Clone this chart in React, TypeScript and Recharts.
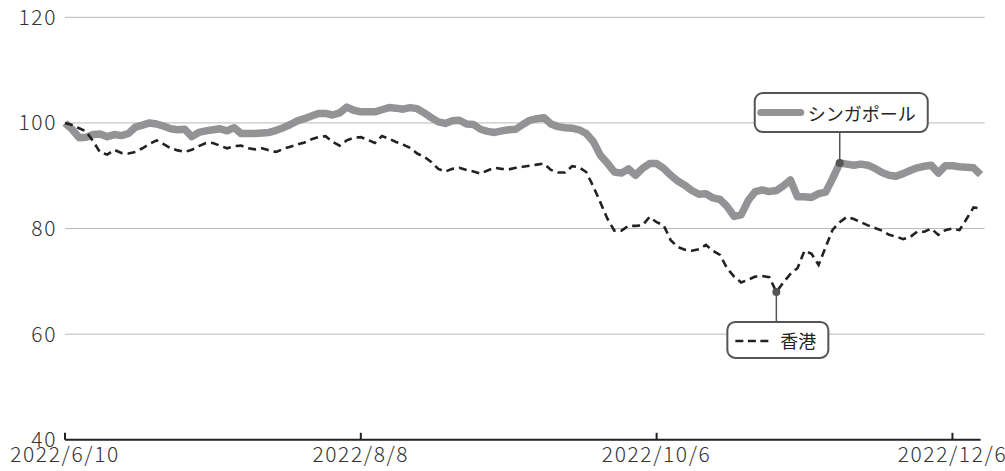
import { CartesianGrid, Line, LineChart, XAxis, YAxis } from "recharts";

const FONT = '"Noto Sans CJK JP", "Noto Sans", sans-serif';
const SG_COLOR = "#939395";
const HK_COLOR = "#222222";
const INK = "#555555";

// trading-day index -> tick label
const tickIndex = [0, 42, 84, 126];
const tickLabels = ["2022/6/10", "2022/8/8", "2022/10/6", "2022/12/6"];
const yTicks = [40, 60, 80, 100, 120];

// indexed to 100 on 2022/6/10
const sg = [
  100, 98.8, 97.2, 97.3, 97.8, 97.9, 97.4, 97.8, 97.6, 98.0,
  99.2, 99.6, 100.0, 99.8, 99.4, 98.9, 98.7, 98.8, 97.4, 98.2,
  98.5, 98.7, 98.9, 98.5, 99.1, 98.0, 98.0, 98.0, 98.1, 98.2,
  98.6, 99.1, 99.7, 100.4, 100.8, 101.3, 101.8, 101.8, 101.5, 101.9,
  103.0, 102.4, 102.1, 102.1, 102.1, 102.5, 102.9, 102.8, 102.6, 102.9,
  102.7, 101.9, 101.0, 100.2, 99.9, 100.4, 100.5, 99.8, 99.7, 98.8,
  98.4, 98.2, 98.5, 98.7, 98.8, 99.7, 100.5, 100.8, 101.0, 99.8,
  99.3, 99.1, 99.0, 98.7, 98.0, 96.5, 93.9, 92.4, 90.7, 90.5,
  91.3, 90.1, 91.4, 92.3, 92.3, 91.4, 90.1, 89.0, 88.2, 87.2,
  86.5, 86.6, 85.8, 85.5, 84.2, 82.3, 82.6, 85.3, 87.0, 87.3,
  87.0, 87.2, 88.1, 89.2, 86.0, 86.0, 85.9, 86.6, 86.9, 89.5,
  92.4, 92.2, 92.0, 92.2, 92.0, 91.4, 90.6, 90.1, 89.9, 90.4,
  91.0, 91.5, 91.8, 92.0, 90.5, 91.9, 91.9, 91.7, 91.6, 91.5,
  90.2,
];

const hk = [
  100, 99.6, 99.0, 98.4, 96.5, 94.4, 94.0, 94.9, 94.3, 94.2,
  94.5, 95.2, 96.0, 96.7, 96.0, 95.2, 94.8, 94.5, 94.9, 95.6,
  96.2, 96.2, 95.7, 95.2, 95.6, 95.7, 95.2, 95.0, 95.2, 94.8,
  94.5, 95.1, 95.5, 95.9, 96.3, 96.9, 97.3, 97.5, 96.4, 95.7,
  96.7, 97.2, 97.3, 96.8, 96.2, 97.5, 97.0, 96.4, 95.9, 95.3,
  94.2, 93.6, 92.6, 91.3, 90.8, 91.3, 91.5, 91.1, 90.8, 90.4,
  91.0, 91.5, 91.3, 91.2, 91.5, 91.7, 91.9, 92.1, 92.3, 91.1,
  90.6, 90.6, 91.8, 91.6, 90.7, 88.0, 85.0, 81.9, 79.6, 79.6,
  80.5, 80.5, 80.6, 82.2, 81.2, 80.6, 77.8, 76.5, 76.0, 75.8,
  76.1, 76.9, 75.8, 75.0, 72.5, 70.9, 69.8, 70.3, 70.9, 71.0,
  70.8, 68.0, 69.8, 71.4, 72.5, 75.8, 75.2, 73.1, 76.5, 79.8,
  81.2, 82.2, 81.8, 81.2, 80.6, 80.1, 79.6, 78.8, 78.5, 78.0,
  78.4, 79.4, 79.4, 80.0, 78.8, 79.7, 80.0, 79.7, 81.8, 84.0,
  83.8,
];

// points where the labels are attached
const SG_NOTE = 110;
const HK_NOTE = 101;

const data = sg.map((v, i) => ({ i, sg: v, hk: hk[i] }));

function DateTick(props: any) {
  const { x, y, payload } = props;
  const k = tickIndex.indexOf(payload.value);
  return (
    <g>
      <line x1={x} x2={x} y1={y - 7} y2={y} stroke="#222" strokeWidth={2} />
      <text
        x={x}
        y={y + 22}
        textAnchor="middle"
        fill="#333"
        fontSize={21}
        fontWeight={300}
        letterSpacing={1.6}
        fontFamily={FONT}
      >
        {tickLabels[k]}
      </text>
    </g>
  );
}

function GridLine(props: any) {
  const { x1, x2, y1, y2 } = props;
  return <line x1={x1} x2={x2 + 4} y1={y1} y2={y2} stroke="#b8b8b8" strokeWidth={1} />;
}

function sgDot(p: any) {
  if (p.index !== SG_NOTE) return <g key={`sg-${p.index}`} />;
  const { cx, cy } = p;
  return (
    <g key="sg-note">
      <line x1={cx} x2={cx} y1={cy} y2={cy - 31} stroke={INK} strokeWidth={1.5} />
      <circle cx={cx} cy={cy} r={4} fill={INK} />
      <rect x={cx - 85} y={cy - 70} width={173} height={39} rx={8} fill="#fff" stroke={INK} strokeWidth={2} />
      <line x1={cx - 79} x2={cx - 39} y1={cy - 50.5} y2={cy - 50.5} stroke={SG_COLOR} strokeWidth={7} strokeLinecap="round" />
      <text x={cx - 32} y={cy - 50} dominantBaseline="central" fill="#222" fontSize={18} fontFamily={FONT}>
        シンガポール
      </text>
    </g>
  );
}

function hkDot(p: any) {
  if (p.index !== HK_NOTE) return <g key={`hk-${p.index}`} />;
  const { cx, cy } = p;
  return (
    <g key="hk-note">
      <line x1={cx} x2={cx} y1={cy} y2={cy + 30} stroke={INK} strokeWidth={1.5} />
      <circle cx={cx} cy={cy} r={4} fill={INK} />
      <rect x={cx - 49} y={cy + 30} width={101} height={36} rx={8} fill="#fff" stroke={INK} strokeWidth={2} />
      <line x1={cx - 41} x2={cx - 4} y1={cy + 49} y2={cy + 49} stroke={HK_COLOR} strokeWidth={2.5} strokeDasharray="8 4.5" />
      <text x={cx + 4} y={cy + 48} dominantBaseline="central" fill="#222" fontSize={18} fontFamily={FONT}>
        香港
      </text>
    </g>
  );
}

export default function App() {
  return (
    <div style={{ position: "absolute", left: 0, top: 0, background: "#fff" }}>
      <LineChart
        width={1005}
        height={471}
        data={data}
        margin={{ top: 17.3, right: 24.4, bottom: 0, left: 0 }}
      >
        <CartesianGrid
          vertical={false}
          horizontal={GridLine}
          horizontalValues={[60, 80, 100, 120]}
        />
        <XAxis
          dataKey="i"
          type="number"
          domain={[0, 130]}
          ticks={tickIndex}
          interval={0}
          height={31.2}
          tickSize={0}
          tickMargin={0}
          tickLine={false}
          axisLine={{ stroke: "#222", strokeWidth: 2 }}
          tick={DateTick}
        />
        <YAxis
          type="number"
          domain={[40, 120]}
          ticks={yTicks}
          width={65}
          axisLine={false}
          tickLine={false}
          tickSize={0}
          tickMargin={8}
          tick={{ fill: "#333", fontSize: 21, fontWeight: 300, letterSpacing: 1.6, fontFamily: FONT }}
        />
        <Line
          dataKey="sg"
          stroke={SG_COLOR}
          strokeWidth={7.5}
          strokeLinejoin="round"
          dot={sgDot}
          activeDot={false}
          isAnimationActive={false}
        />
        <Line
          dataKey="hk"
          stroke={HK_COLOR}
          strokeWidth={2.6}
          strokeDasharray="8 5"
          dot={hkDot}
          activeDot={false}
          isAnimationActive={false}
        />
      </LineChart>
    </div>
  );
}
